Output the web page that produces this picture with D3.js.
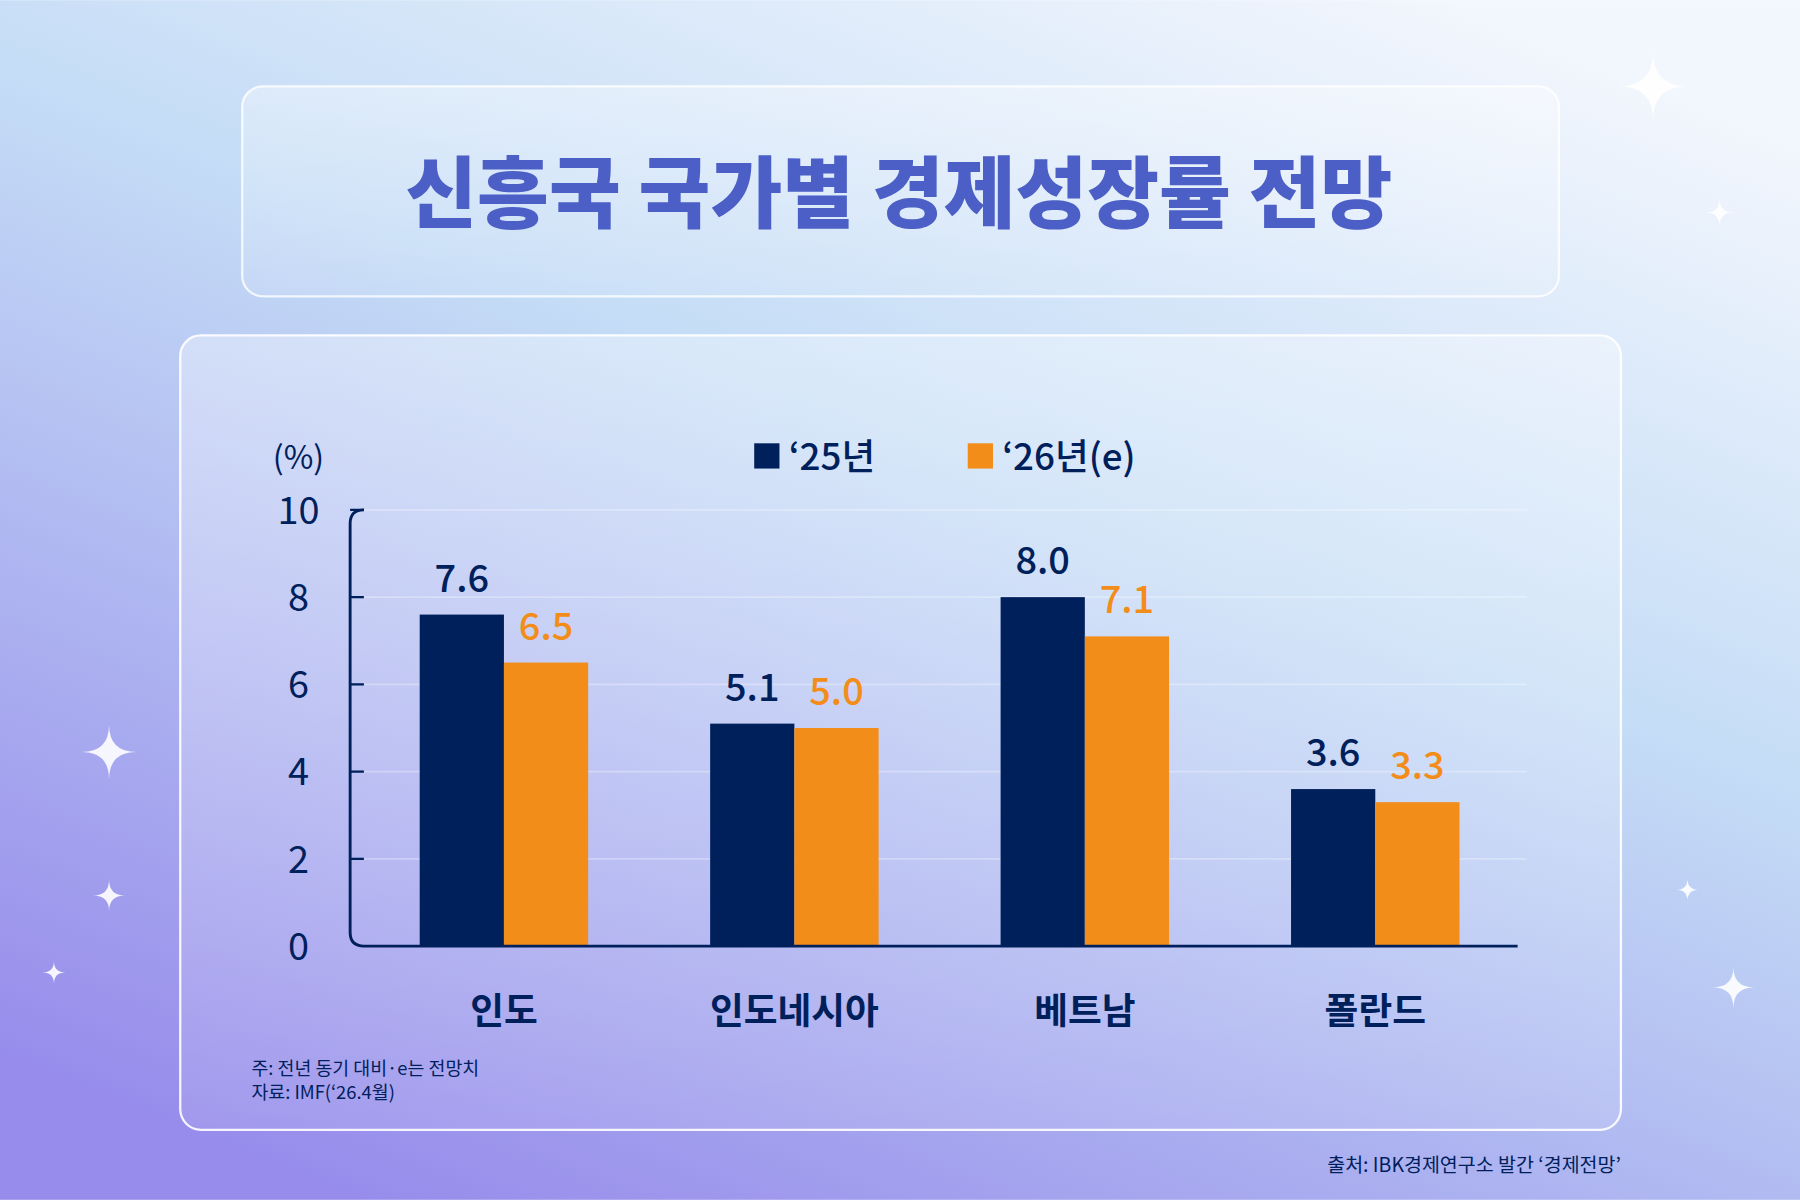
<!DOCTYPE html>
<html><head><meta charset="utf-8">
<script src="https://cdn.jsdelivr.net/npm/d3@7"></script>
<style>body{margin:0;overflow:hidden}svg{display:block}text{font-family:"Noto Sans CJK KR","Noto Sans",sans-serif}</style>
</head><body><svg id="c" width="1800" height="1200" viewBox="0 0 1568 1045"></svg>
<script>
const title = "신흥국 국가별 경제성장률 전망";
const categories = ["인도","인도네시아","베트남","폴란드"];
const seriesNames = ["‘25년","‘26년(e)"];
const values25 = [7.6,5.1,8.0,3.6];
const values26 = [6.5,5.0,7.1,3.3];
const yTicks = [0,2,4,6,8,10];
const colors = ["#00205c","#f38d1a"];
const notes = ["주: 전년 동기 대비·e는 전망치","자료: IMF(‘26.4월)"];
const source = "출처: IBK경제연구소 발간 ‘경제전망’";

const svg = d3.select("#c");
const defs = svg.append("defs");
const g1 = defs.append("linearGradient").attr("id","bg").attr("x1","0.8").attr("y1","0").attr("x2","0.2").attr("y2","1");
g1.append("stop").attr("offset","0").attr("stop-color","#f2f6fd");
g1.append("stop").attr("offset","0.4").attr("stop-color","#c4dcf6");
g1.append("stop").attr("offset","1").attr("stop-color","#978ceb");
svg.append("rect").attr("width",1568).attr("height",1045).attr("fill","url(#bg)");
const g2 = defs.append("linearGradient").attr("id","bx").attr("x1","0").attr("y1","0").attr("x2","0").attr("y2","1");
g2.append("stop").attr("offset","0").attr("stop-color","#ffffff").attr("stop-opacity",0.35);
g2.append("stop").attr("offset","1").attr("stop-color","#ffffff").attr("stop-opacity",0.1);

svg.append("rect").attr("x",211).attr("y",75).attr("width",1147).attr("height",183).attr("rx",18)
  .attr("fill","url(#bx)").attr("stroke","#ffffff").attr("stroke-opacity",0.8).attr("stroke-width",2);
svg.append("text").attr("x",783).attr("y",193).attr("text-anchor","middle").attr("font-size",68)
  .attr("font-weight",900).attr("fill","#4b5fc6").text(title);
svg.append("rect").attr("x",157).attr("y",292).attr("width",1255).attr("height",692).attr("rx",18)
  .attr("fill","url(#bx)").attr("stroke","#ffffff").attr("stroke-opacity",0.9).attr("stroke-width",2);

[[1440,75,30],[1498,185,12],[95,655,24],[95,780,14],[47,847,10],[1470,775,10],[1510,860,18]].forEach(([x,y,r])=>{
  svg.append("path").attr("d",`M${x},${y-r}Q${x},${y} ${x+r},${y}Q${x},${y} ${x},${y+r}Q${x},${y} ${x-r},${y}Q${x},${y} ${x},${y-r}Z`)
    .attr("fill","#fff").attr("opacity",0.9);
});

const y = d3.scaleLinear().domain([0,10]).range([824,444]);
const x0 = d3.scaleBand().domain(categories).range([315,1322]).paddingInner(0.42).paddingOuter(0.2);
const x1 = d3.scaleBand().domain([0,1]).range([0,x0.bandwidth()]);

svg.append("g").selectAll("line").data(yTicks.filter(d=>d>0)).join("line")
  .attr("x1",305).attr("x2",1330).attr("y1",d=>y(d)).attr("y2",d=>y(d))
  .attr("stroke","#ffffff").attr("stroke-opacity",0.3).attr("stroke-width",1.5);
svg.append("g").selectAll("line").data(yTicks.filter(d=>d>0)).join("line")
  .attr("x1",305).attr("x2",317).attr("y1",d=>y(d)).attr("y2",d=>y(d)).attr("stroke","#00205c").attr("stroke-width",2);
svg.append("g").selectAll("text").data(yTicks).join("text")
  .attr("x",260).attr("y",d=>y(d)+12).attr("text-anchor","middle").attr("font-size",33)
  .attr("fill","#00205c").text(d=>d);
svg.append("text").attr("x",260).attr("y",408).attr("text-anchor","middle").attr("font-size",28).attr("fill","#00205c").text("(%)");

const groups = svg.append("g").selectAll("g").data(categories).join("g").attr("transform",d=>`translate(${x0(d)},0)`);
[values25,values26].forEach((vals,si)=>{
  groups.append("rect").attr("x",x1(si)).attr("width",x1.bandwidth()).attr("y",(d,i)=>y(vals[i]))
    .attr("height",(d,i)=>y(0)-y(vals[i])).attr("fill",colors[si]);
  groups.append("text").attr("x",x1(si)+x1.bandwidth()/2).attr("y",(d,i)=>y(vals[i])-20)
    .attr("text-anchor","middle").attr("font-size",33).attr("font-weight",500)
    .attr("fill",colors[si]).text((d,i)=>vals[i].toFixed(1));
});
groups.append("text").attr("x",x0.bandwidth()/2).attr("y",892).attr("text-anchor","middle")
  .attr("font-size",32).attr("font-weight",700).attr("fill","#00205c").text(d=>d);

svg.append("path").attr("d","M317,444Q305,444 305,456L305,812Q305,824 317,824L1322,824")
  .attr("fill","none").attr("stroke","#00205c").attr("stroke-width",2.5);

const lx=[657,843];
seriesNames.forEach((s,i)=>{
  svg.append("rect").attr("x",lx[i]).attr("y",386).attr("width",22).attr("height",22).attr("fill",colors[i]);
  svg.append("text").attr("x",lx[i]+30).attr("y",409).attr("font-size",32).attr("font-weight",500).attr("fill","#00205c").text(s);
});
notes.forEach((n,i)=>svg.append("text").attr("x",219).attr("y",936+i*21).attr("font-size",16).attr("fill","#00205c").text(n));
svg.append("text").attr("x",1412).attr("y",1021).attr("text-anchor","end").attr("font-size",17).attr("fill","#00205c").text(source);
</script></body></html>
